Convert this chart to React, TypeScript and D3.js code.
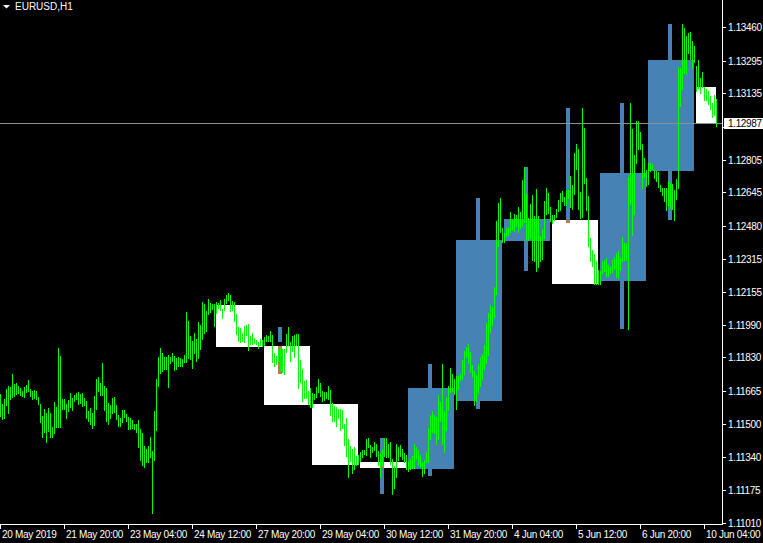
import React from "react";
import * as d3 from "d3";

const symbolTitle = "EURUSD,H1";

const tradingDays = [
  "2019-05-20", "2019-05-21", "2019-05-22", "2019-05-23", "2019-05-24",
  "2019-05-27", "2019-05-28", "2019-05-29", "2019-05-30", "2019-05-31",
  "2019-06-03", "2019-06-04", "2019-06-05", "2019-06-06", "2019-06-07",
  "2019-06-10",
];
const firstHour = 12;
const lastHour = 10;

const hourHigh = [
  1.11650, 1.11600, 1.11625, 1.11674, 1.11689, 1.11684, 1.11748, 1.11699, 1.11704, 1.11689, 1.11679, 1.11664,
  1.11684, 1.11694, 1.11719, 1.11674, 1.11664, 1.11669, 1.11664, 1.11635, 1.11600, 1.11541, 1.11576, 1.11556,
  1.11581, 1.11556, 1.11487, 1.11610, 1.11586, 1.11877, 1.11837, 1.11625, 1.11625, 1.11600, 1.11620, 1.11655,
  1.11630, 1.11645, 1.11655, 1.11660, 1.11650, 1.11655, 1.11630, 1.11615, 1.11566, 1.11581, 1.11556, 1.11640,
  1.11724, 1.11734, 1.11704, 1.11803, 1.11689, 1.11679, 1.11605, 1.11595, 1.11630, 1.11635, 1.11595, 1.11546,
  1.11531, 1.11571, 1.11571, 1.11551, 1.11536, 1.11531, 1.11521, 1.11501, 1.11501, 1.11521, 1.11477, 1.11457,
  1.11393, 1.11378, 1.11393, 1.11437, 1.11368, 1.11566, 1.11724, 1.11832, 1.11877, 1.11852, 1.11832, 1.11832,
  1.11842, 1.11832, 1.11852, 1.11837, 1.11827, 1.11832, 1.11827, 1.11822, 1.11842, 1.12055, 1.12010, 1.11936,
  1.11911, 1.11951, 1.11921, 1.12005, 1.11990, 1.12104, 1.12094, 1.12060, 1.12119, 1.12099, 1.12094, 1.12094,
  1.12104, 1.12099, 1.12114, 1.12070, 1.12119, 1.12138, 1.12148, 1.12138, 1.12109, 1.12104, 1.12045, 1.11980,
  1.11975, 1.11951, 1.11985, 1.11990, 1.11995, 1.11936, 1.11951, 1.11926, 1.11916, 1.11906, 1.11921, 1.11916,
  1.11931, 1.11941, 1.11936, 1.11961, 1.11941, 1.11852, 1.11837, 1.11872, 1.11872, 1.11872, 1.11872, 1.11946,
  1.11980, 1.11906, 1.11936, 1.11941, 1.11946, 1.11946, 1.11817, 1.11773, 1.11714, 1.11719, 1.11664, 1.11679,
  1.11655, 1.11650, 1.11684, 1.11724, 1.11704, 1.11664, 1.11660, 1.11660, 1.11689, 1.11669, 1.11605, 1.11591,
  1.11586, 1.11576, 1.11576, 1.11571, 1.11501, 1.11531, 1.11427, 1.11393, 1.11378, 1.11388, 1.11344, 1.11349,
  1.11363, 1.11373, 1.11373, 1.11427, 1.11432, 1.11398, 1.11388, 1.11413, 1.11403, 1.11368, 1.11358, 1.11378,
  1.11432, 1.11432, 1.11403, 1.11413, 1.11329, 1.11294, 1.11403, 1.11388, 1.11398, 1.11378, 1.11358, 1.11349,
  1.11319, 1.11329, 1.11344, 1.11403, 1.11388, 1.11373, 1.11349, 1.11314, 1.11324, 1.11363, 1.11482, 1.11546,
  1.11566, 1.11546, 1.11536, 1.11645, 1.11610, 1.11798, 1.11566, 1.11635, 1.11689, 1.11778, 1.11748, 1.11724,
  1.11739, 1.11739, 1.11748, 1.11817, 1.11862, 1.11882, 1.11896, 1.11857, 1.11793, 1.11763, 1.11743, 1.11798,
  1.11832, 1.11847, 1.11891, 1.12000, 1.12050, 1.12089, 1.12079, 1.12178, 1.12504, 1.12593, 1.12617, 1.12469,
  1.12445, 1.12469, 1.12474, 1.12548, 1.12514, 1.12538, 1.12533, 1.12573, 1.12548, 1.12706, 1.12770, 1.12637,
  1.12519, 1.12588, 1.12632, 1.12528, 1.12662, 1.12528, 1.12430, 1.12464, 1.12603, 1.12667, 1.12642, 1.12573,
  1.12533, 1.12533, 1.12563, 1.12607, 1.12642, 1.12652, 1.12622, 1.12657, 1.12657, 1.12726, 1.12681, 1.12840,
  1.12884, 1.12860, 1.12647, 1.13062, 1.12963, 1.12716, 1.12627, 1.12420, 1.12361, 1.12341, 1.12306, 1.12262,
  1.12257, 1.12306, 1.12311, 1.12321, 1.12287, 1.12277, 1.12311, 1.12326, 1.12346, 1.12356, 1.12326, 1.12425,
  1.12395, 1.12395, 1.12721, 1.13086, 1.12958, 1.12830, 1.12998, 1.12998, 1.12943, 1.12884, 1.12815, 1.12755,
  1.12790, 1.12790, 1.12785, 1.12755, 1.12750, 1.12745, 1.12681, 1.12667, 1.12667, 1.12667, 1.12701, 1.12691,
  1.12686, 1.12657, 1.12711, 1.13264, 1.13259, 1.13477, 1.13457, 1.13418, 1.13433, 1.13438, 1.13393, 1.13368,
  1.13269, 1.13299, 1.13210, 1.13240, 1.13166, 1.13156, 1.13146, 1.13121, 1.13086, 1.13126, 1.13106,
];

const hourLow = [
  1.11541, 1.11526, 1.11531, 1.11595, 1.11556, 1.11625, 1.11635, 1.11640, 1.11650, 1.11655, 1.11645, 1.11640,
  1.11635, 1.11660, 1.11664, 1.11640, 1.11625, 1.11630, 1.11625, 1.11600, 1.11511, 1.11437, 1.11462, 1.11413,
  1.11467, 1.11437, 1.11437, 1.11457, 1.11487, 1.11487, 1.11487, 1.11576, 1.11576, 1.11531, 1.11566, 1.11586,
  1.11571, 1.11615, 1.11625, 1.11600, 1.11605, 1.11591, 1.11595, 1.11531, 1.11516, 1.11501, 1.11482, 1.11496,
  1.11576, 1.11664, 1.11645, 1.11645, 1.11571, 1.11516, 1.11501, 1.11531, 1.11556, 1.11561, 1.11526, 1.11492,
  1.11492, 1.11511, 1.11536, 1.11516, 1.11477, 1.11477, 1.11482, 1.11477, 1.11462, 1.11388, 1.11324, 1.11299,
  1.11289, 1.11314, 1.11314, 1.11339, 1.11062, 1.11324, 1.11472, 1.11689, 1.11753, 1.11763, 1.11773, 1.11773,
  1.11684, 1.11803, 1.11813, 1.11768, 1.11773, 1.11788, 1.11788, 1.11788, 1.11808, 1.11808, 1.11827, 1.11822,
  1.11778, 1.11852, 1.11813, 1.11827, 1.11872, 1.11921, 1.11951, 1.11961, 1.12045, 1.12055, 1.12070, 1.11985,
  1.12050, 1.12074, 1.12065, 1.12025, 1.12065, 1.12099, 1.12114, 1.12060, 1.12065, 1.12010, 1.11946, 1.11911,
  1.11906, 1.11911, 1.11906, 1.11941, 1.11867, 1.11896, 1.11896, 1.11901, 1.11896, 1.11877, 1.11891, 1.11886,
  1.11891, 1.11911, 1.11911, 1.11911, 1.11808, 1.11788, 1.11798, 1.11813, 1.11768, 1.11758, 1.11748, 1.11857,
  1.11891, 1.11813, 1.11862, 1.11832, 1.11891, 1.11679, 1.11709, 1.11615, 1.11630, 1.11630, 1.11600, 1.11586,
  1.11586, 1.11625, 1.11635, 1.11660, 1.11640, 1.11615, 1.11620, 1.11630, 1.11625, 1.11546, 1.11516, 1.11516,
  1.11492, 1.11531, 1.11472, 1.11482, 1.11398, 1.11344, 1.11240, 1.11319, 1.11260, 1.11279, 1.11299, 1.11304,
  1.11319, 1.11339, 1.11353, 1.11349, 1.11388, 1.11339, 1.11363, 1.11373, 1.11344, 1.11299, 1.11240, 1.11299,
  1.11344, 1.11339, 1.11339, 1.11304, 1.11156, 1.11185, 1.11240, 1.11324, 1.11344, 1.11329, 1.11314, 1.11279,
  1.11270, 1.11279, 1.11284, 1.11284, 1.11329, 1.11299, 1.11289, 1.11245, 1.11260, 1.11314, 1.11314, 1.11427,
  1.11462, 1.11457, 1.11403, 1.11427, 1.11516, 1.11403, 1.11363, 1.11472, 1.11571, 1.11660, 1.11664, 1.11650,
  1.11576, 1.11674, 1.11719, 1.11724, 1.11748, 1.11832, 1.11803, 1.11758, 1.11734, 1.11595, 1.11615, 1.11655,
  1.11689, 1.11724, 1.11773, 1.11803, 1.11842, 1.11956, 1.11990, 1.12030, 1.12143, 1.12380, 1.12450, 1.12400,
  1.12400, 1.12430, 1.12435, 1.12450, 1.12459, 1.12454, 1.12479, 1.12450, 1.12469, 1.12479, 1.12499, 1.12410,
  1.12410, 1.12420, 1.12311, 1.12306, 1.12257, 1.12277, 1.12306, 1.12316, 1.12420, 1.12538, 1.12543, 1.12504,
  1.12494, 1.12509, 1.12524, 1.12553, 1.12558, 1.12603, 1.12583, 1.12583, 1.12617, 1.12573, 1.12563, 1.12637,
  1.12760, 1.12563, 1.12519, 1.12524, 1.12691, 1.12558, 1.12380, 1.12306, 1.12282, 1.12193, 1.12193, 1.12193,
  1.12193, 1.12247, 1.12257, 1.12232, 1.12232, 1.12247, 1.12252, 1.12267, 1.12227, 1.12222, 1.12262, 1.12306,
  1.12311, 1.12311, 1.11971, 1.12588, 1.12435, 1.12538, 1.12790, 1.12860, 1.12860, 1.12667, 1.12721, 1.12676,
  1.12686, 1.12750, 1.12760, 1.12716, 1.12701, 1.12671, 1.12652, 1.12632, 1.12603, 1.12558, 1.12583, 1.12568,
  1.12563, 1.12509, 1.12612, 1.12667, 1.13072, 1.13156, 1.13235, 1.13230, 1.13333, 1.13304, 1.13259, 1.13289,
  1.13146, 1.13161, 1.13136, 1.13166, 1.13101, 1.13101, 1.13081, 1.13057, 1.13017, 1.13027, 1.12973,
];

const candleDays = [
  "2019-05-27", "2019-05-28", "2019-05-29", "2019-05-30", "2019-05-31",
  "2019-06-03", "2019-06-04", "2019-06-05", "2019-06-06", "2019-06-07", "2019-06-10",
];
const candleOpen = [1.12089, 1.11886, 1.11600, 1.11312, 1.11284, 1.11620, 1.12410, 1.12509, 1.12212, 1.12755, 1.13166];
const candleClose = [1.11886, 1.11600, 1.11304, 1.11287, 1.11679, 1.12410, 1.12514, 1.12198, 1.12741, 1.13299, 1.12987];

const wickDay = ["2019-05-28", "2019-05-28", "2019-05-30", "2019-05-31", "2019-06-03", "2019-06-04", "2019-06-05", "2019-06-06", "2019-06-07"];
const wickHour = [7, 7, 10, 10, 10, 10, 7, 10, 10];
const wickHigh = [1.11980, 1.11886, 1.11432, 1.11798, 1.12617, 1.12770, 1.13062, 1.13086, 1.13477];
const wickLow = [1.11911, 1.11753, 1.11161, 1.11250, 1.11581, 1.12262, 1.12499, 1.11976, 1.12514];

const priceTicks = [
  "1.11010", "1.11175", "1.11340", "1.11500", "1.11665", "1.11830", "1.11990", "1.12155",
  "1.12315", "1.12480", "1.12645", "1.12805", "1.12970", "1.13135", "1.13295", "1.13460",
];
const bidPrice = 1.12987;

const timeLabels = [
  "20 May 2019", "21 May 20:00", "23 May 04:00", "24 May 12:00", "27 May 20:00", "29 May 04:00",
  "30 May 12:00", "31 May 20:00", "4 Jun 04:00", "5 Jun 12:00", "6 Jun 20:00", "10 Jun 04:00",
];

const W = 763;
const H = 543;
const AXIS_X = 722;
const AXIS_Y = 524;
const FONT = "'Liberation Sans', Arial, sans-serif";

export default function App() {
  const parseDay = d3.timeParse("%Y-%m-%d");
  const dayKey = d3.timeFormat("%Y-%m-%d");
  const fmtTime = d3.timeFormat("%-d %b %H:%M");
  const fmtDate = d3.timeFormat("%-d %b %Y");

  const barTimes: Date[] = [];
  tradingDays.forEach((ds, di) => {
    const d0 = parseDay(ds) as Date;
    const h0 = di === 0 ? firstHour : 0;
    const h1 = di === tradingDays.length - 1 ? lastHour : 23;
    for (let h = h0; h <= h1; h++) barTimes.push(d3.timeHour.offset(d0, h));
  });
  const n = Math.min(barTimes.length, hourHigh.length, hourLow.length);

  const x = d3.scaleLinear().domain([0, 359]).range([0, 718]);
  const y = d3.scaleLinear().domain([1.110075, 1.135948]).range([AXIS_Y, 0]);
  const py = (p: number) => Math.round(y(p));

  const dayBars = (ds: string) => {
    const idx: number[] = [];
    barTimes.forEach((t, i) => {
      if (dayKey(t) === ds) idx.push(i);
    });
    return idx;
  };

  const candles = candleDays.map((ds, k) => {
    const idx = dayBars(ds);
    const first = idx[0];
    const last = idx[idx.length - 1];
    const o = candleOpen[k];
    const c = candleClose[k];
    const top = py(Math.max(o, c));
    const bot = py(Math.min(o, c));
    return {
      key: ds,
      x0: x(first),
      w: x(last) - x(first),
      top,
      h: Math.max(1, bot - top + 1),
      bull: c > o,
    };
  });

  const wicks = wickDay.map((ds, k) => {
    const idx = dayBars(ds);
    const bi = idx[0] + wickHour[k];
    const top = py(wickHigh[k]);
    const bot = py(wickLow[k]);
    const ci = candleDays.indexOf(ds);
    const cd = candles[ci];
    let overlap: null | { top: number; h: number } = null;
    if (cd && !cd.bull) {
      const ot = Math.max(top, cd.top);
      const ob = Math.min(bot + 1, cd.top + cd.h);
      if (ob > ot) overlap = { top: ot, h: ob - ot };
    }
    return { key: ds + k, x0: x(bi), top, h: bot - top + 1, overlap };
  });

  const timeTicks = timeLabels.map((lab, k) => {
    const i = barTimes.findIndex((t) => (k === 0 ? fmtDate(t) === lab : fmtTime(t) === lab));
    return { lab, x0: x(Math.max(0, i)) };
  });

  const bidY = py(bidPrice);

  return (
    <svg
      width={W}
      height={H}
      style={{ position: "fixed", left: 0, top: 0, display: "block" }}
      shapeRendering="crispEdges"
    >
      <rect x={0} y={0} width={W} height={H} fill="#000" />

      {wicks.map((wk) => (
        <rect key={"w" + wk.key} x={wk.x0} y={wk.top} width={4} height={wk.h} fill="#4682B4" />
      ))}
      {candles.map((c) => (
        <rect key={"c" + c.key} x={c.x0} y={c.top} width={c.w} height={c.h} fill={c.bull ? "#4682B4" : "#FFFFFF"} />
      ))}
      {wicks.map((wk) =>
        wk.overlap ? (
          <rect key={"o" + wk.key} x={wk.x0} y={wk.overlap.top} width={4} height={wk.overlap.h} fill="#B97D4B" />
        ) : null
      )}

      <line x1={0} x2={AXIS_X} y1={bidY + 0.5} y2={bidY + 0.5} stroke="#8a8f96" strokeWidth={1} />

      {d3.range(n).map((i) => {
        const t = py(hourHigh[i]);
        const b = py(hourLow[i]);
        return <rect key={"b" + i} x={x(i)} y={t} width={1} height={Math.max(1, b - t + 1)} fill="#00FF00" />;
      })}

      <rect x={AXIS_X} y={0} width={1} height={AXIS_Y + 1} fill="#fff" />
      <rect x={0} y={AXIS_Y} width={AXIS_X + 1} height={1} fill="#fff" />

      {priceTicks.map((lab) => {
        const ty = py(+lab);
        const hidden = Math.abs(ty - bidY) < 9;
        return (
          <g key={"p" + lab}>
            <rect x={AXIS_X + 1} y={ty} width={3} height={1} fill="#fff" />
            {hidden ? null : (
              <text
                x={728}
                y={ty + 0.5}
                dy="0.36em"
                fill="#fff"
                fontFamily={FONT}
                fontSize={10}
                letterSpacing={-0.35}
              >
                {lab}
              </text>
            )}
          </g>
        );
      })}

      <rect x={AXIS_X + 2} y={bidY - 5} width={W - AXIS_X - 2} height={11} fill="#fff" />
      <text x={728} y={bidY + 0.5} dy="0.36em" fill="#000" fontFamily={FONT} fontSize={10} letterSpacing={-0.35}>
        {bidPrice.toFixed(5)}
      </text>

      {timeTicks.map((tk) => (
        <g key={"t" + tk.lab}>
          <rect x={tk.x0} y={AXIS_Y + 1} width={1} height={4} fill="#fff" />
          <text x={tk.x0 + 2} y={538} fill="#fff" fontFamily={FONT} fontSize={10} letterSpacing={-0.3}>
            {tk.lab}
          </text>
        </g>
      ))}

      <path d="M3,5 L10,5 L6.5,8.5 Z" fill="#fff" shapeRendering="geometricPrecision" />
      <text x={15} y={10} fill="#fff" fontFamily={FONT} fontSize={10}>
        {symbolTitle}
      </text>
    </svg>
  );
}
